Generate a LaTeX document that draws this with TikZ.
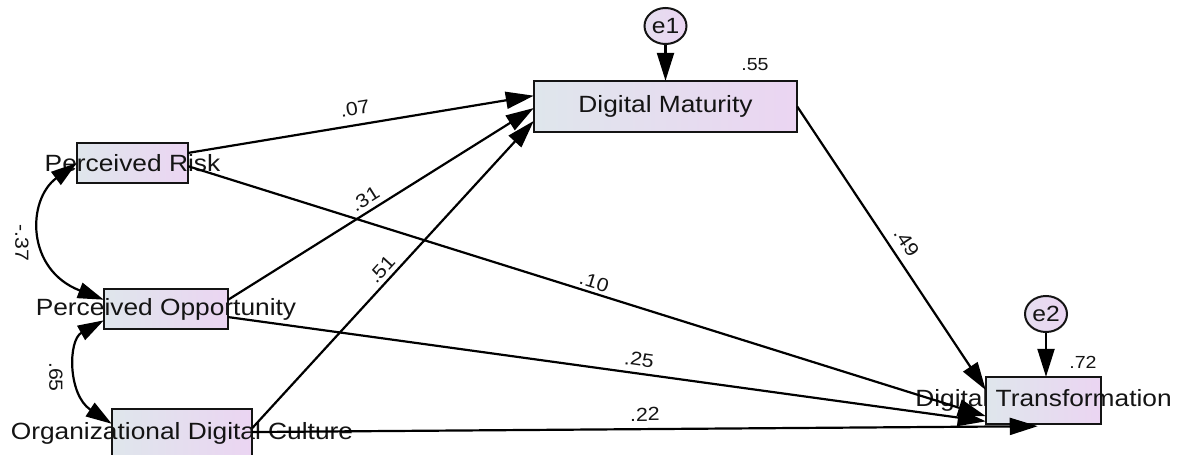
\documentclass[tikz,border=0pt]{standalone}
\usepackage{fontspec}
\setmainfont{Liberation Sans}[FakeStretch=1.12]
\usetikzlibrary{arrows.meta,shapes.geometric,calc}
\definecolor{shadeL}{HTML}{DFE6EC}
\definecolor{shadeR}{HTML}{EBD5F2}
\definecolor{ink}{HTML}{141414}

\begin{document}
\begin{tikzpicture}[x=1pt,y=-1pt,
  var/.style={rectangle, inner sep=0pt, left color=shadeL, right color=shadeR, draw=none},
  err/.style={ellipse, minimum width=42pt, minimum height=36pt, inner sep=0pt,
    left color=shadeL!50!shadeR, right color=shadeR, draw=ink, line width=2pt,
    font=\fontsize{22}{25}\selectfont, text=ink},
  name text/.style={font=\fontsize{23.5}{28}\selectfont, text=ink, inner sep=0pt},
  rim/.style={draw=ink, line width=2.5pt},
  path/.style={line width=2.2pt, -{Triangle[length=28pt,width=17pt]}},
  cov/.style={line width=2.2pt, {Triangle[length=26pt,width=16pt]}-{Triangle[length=26pt,width=16pt]}},
  coef/.style={font=\fontsize{19}{22}\selectfont, text=ink, inner sep=2pt},
  rsq/.style={font=\fontsize{17.5}{20}\selectfont, text=ink, inner sep=2pt},
]
\fill[white] (0,0) rectangle (1179,455);
\useasboundingbox (0,0) rectangle (1179,455);

% observed variables
\node[var, minimum width=111pt, minimum height=40pt] (pr)  at (132.5,163) {};
\node[var, minimum width=124pt, minimum height=40pt] (po)  at (166,309) {};
\node[var, minimum width=140pt, minimum height=48pt] (odc) at (182,433) {};
\node[var, minimum width=263pt, minimum height=51pt] (dm)  at (665.5,106.5) {};
\node[var, minimum width=115pt, minimum height=47pt] (dt)  at (1043.5,400.5) {};

\node[name text] (prt)  at (pr.center)  {Perceived Risk};
\node[name text] (pot)  at (po.center)  {Perceived Opportunity};
\node[name text] (odct) at (odc.center) {Organizational Digital Culture};
\node[name text] (dmt)  at (dm.center)  {Digital Maturity};
\node[name text] (dtt)  at (dt.center)  {Digital Transformation};

\foreach \b in {pr,po,odc,dm,dt}
  \draw[rim] (\b.north west) rectangle (\b.south east);

% error terms
\node[err] (e1) at (665.5,26) {e1};
\node[err] (e2) at (1046,314) {e2};
\draw[path] (e1) -- (e1 |- dm.north);
\draw[path] (e2) -- (e2 |- dt.north);

% squared multiple correlations
\node[rsq] (r1) at (755,65)  {.55};
\node[rsq] (r2) at (1083,362) {.72};

% paths into Digital Maturity
\draw[path] ($(pr.north east)!0.25!(pr.south east)$)
  -- node[coef, sloped, above=7pt, pos=0.49] {.07}
  ($(dm.north west)!0.29!(dm.south west)$);
\draw[path] ($(po.north east)!0.27!(po.south east)$)
  -- node[coef, sloped, above=3pt, pos=0.47] {.31}
  ($(dm.north west)!0.53!(dm.south west)$);
\draw[path] ($(odc.north east)!0.40!(odc.south east)$)
  -- node[coef, sloped, above=2pt, pos=0.49] {.51}
  ($(dm.north west)!0.78!(dm.south west)$);

% paths into Digital Transformation
\draw[path] ($(pr.north east)!0.58!(pr.south east)$)
  -- node[coef, sloped, above=1pt, pos=0.505] {.10}
  ($(dt.north west)!0.83!(dt.south west)$);
\draw[path] ($(po.north east)!0.70!(po.south east)$)
  -- node[coef, sloped, above=4pt, pos=0.54] {.25}
  ($(dt.north west)!0.94!(dt.south west)$);
\draw[path] ($(odc.north east)!0.48!(odc.south east)$)
  -- node[coef, sloped, above=5pt, pos=0.5] {.22}
  ($(dt.south west)!0.45!(dt.south east)+(0,2)$);
\draw[path] (dm.east)
  -- node[coef, sloped, above=6pt, pos=0.51] {.49}
  ($(dt.north west)!0.28!(dt.south west)$);

% covariances
\draw[cov] (pr.west) .. controls +(-50,37) and +(-78,-30) ..
  ($(po.north west)!0.27!(po.south west)$);
\node[coef, rotate=-90] (c1t) at (22,243) {-.37};
\draw[cov] ($(po.north west)!0.78!(po.south west)$) .. controls +(-36,20) and +(-44,-29) ..
  ($(odc.north west)!0.31!(odc.south west)$);
\node[coef, rotate=-90] (c2t) at (56,377) {.65};
\end{tikzpicture}
\end{document}
